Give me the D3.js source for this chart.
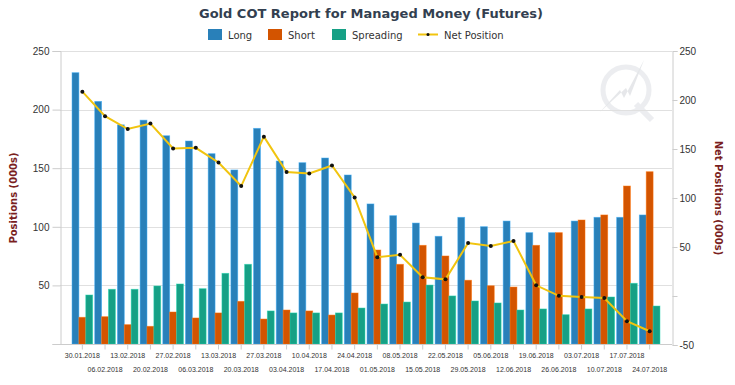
<!DOCTYPE html>
<html>
<head>
<meta charset="utf-8">
<script src="https://cdn.jsdelivr.net/npm/d3@7"></script>
<style>
  body { margin: 0; background: #fff; }
  svg { font-family: "DejaVu Sans", sans-serif; }
</style>
</head>
<body>
<svg id="chart" width="735" height="385"></svg>
<script>
var dates = ["30.01.2018","06.02.2018","13.02.2018","20.02.2018","27.02.2018","06.03.2018","13.03.2018",
  "20.03.2018","27.03.2018","03.04.2018","10.04.2018","17.04.2018","24.04.2018","01.05.2018",
  "08.05.2018","15.05.2018","22.05.2018","29.05.2018","05.06.2018","12.06.2018","19.06.2018",
  "26.06.2018","03.07.2018","10.07.2018","17.07.2018","24.07.2018"];
var long_vals = [231.5,207,187,191,177.7,173.2,162.4,148.5,184,156.1,154.7,158.7,144.2,119.5,
  109.5,103.2,91.9,108.1,100.1,104.9,95,95,104.9,108.1,108.1,110.1];
var short_vals = [22.8,23.3,16.5,15.1,27.3,22.2,26.5,36.4,21.3,29,28.2,24.7,43.5,80.2,
  68,84.2,75.1,54.4,49.7,48.6,84.2,95,105.8,110.1,134.8,147];
var spread_vals = [41.8,46.7,46.7,49.5,51.2,47.2,60.3,68,28.2,26.5,26.5,26.5,30.7,34.1,
  35.8,50.3,41,36.7,35,29,29.9,25,29.9,40.1,51.8,32.4];
var net_vals = [208.5,183.5,170.4,176,150.6,151.2,136.2,112.2,162.6,126.5,125,133.2,100.5,39.5,
  42,19.2,17,54,51,56.2,10.9,0.2,-1,-2,-25.8,-36];
var left_ticks = [0,50,100,150,200,250];
var right_ticks = [-50,0,50,100,150,200,250];

var series = [
  {name: "Long", values: long_vals, color: "#2980b9"},
  {name: "Short", values: short_vals, color: "#d35400"},
  {name: "Spreading", values: spread_vals, color: "#16a085"}
];

var svg = d3.select("#chart");
var plot_left = 60, plot_right = 672, plot_top = 51, plot_bottom = 344;

var x = d3.scaleBand().domain(dates).range([71, 661]).paddingInner(0).paddingOuter(0);
var y_left = d3.scaleLinear().domain([0, 250]).range([plot_bottom, plot_top]);
var y_right = d3.scaleLinear().domain([-50, 250]).range([plot_bottom + 1, plot_top]);
var sub = d3.scaleBand().domain(series.map(s => s.name)).range([0, x.bandwidth()]).paddingOuter(0.15);

// watermark
var wm = svg.append("g").attr("transform", "translate(626,90)").attr("opacity", 0.35);
wm.append("circle").attr("r", 23).attr("fill", "none").attr("stroke", "#c9ced6").attr("stroke-width", 5);
wm.append("path").attr("d", "M-26,22 L-6,0 L-2,8 L18,-30 L4,6 L0,-2 Z").attr("fill", "#b8bdc4");
wm.append("path").attr("d", "M10,14 L26,30").attr("stroke", "#c9ced6").attr("stroke-width", 6);

// grid
svg.append("g").selectAll("line")
  .data(left_ticks.slice(1))
  .enter().append("line")
  .attr("x1", plot_left).attr("x2", plot_right)
  .attr("y1", d => Math.round(y_left(d)) + 0.5).attr("y2", d => Math.round(y_left(d)) + 0.5)
  .attr("stroke", "#e0e0e0").attr("stroke-width", 1);

// bars
series.forEach(function(s){
  svg.append("g").selectAll("rect")
    .data(s.values)
    .enter().append("rect")
    .attr("x", (d, i) => x(dates[i]) + sub(s.name))
    .attr("y", d => y_left(d))
    .attr("width", sub.bandwidth())
    .attr("height", d => plot_bottom - y_left(d))
    .attr("fill", s.color)
    .attr("stroke", d3.color(s.color).brighter(0.8))
    .attr("stroke-opacity", 0.6)
    .attr("stroke-width", 0.8);
});

// net line
var line = d3.line()
  .x((d, i) => x(dates[i]) + x.bandwidth() / 2)
  .y(d => y_right(d));
svg.append("path")
  .datum(net_vals)
  .attr("d", line)
  .attr("fill", "none")
  .attr("stroke", "#f1c40f")
  .attr("stroke-width", 2);
svg.append("g").selectAll("circle")
  .data(net_vals)
  .enter().append("circle")
  .attr("cx", (d, i) => x(dates[i]) + x.bandwidth() / 2)
  .attr("cy", d => y_right(d))
  .attr("r", 2)
  .attr("fill", "#111");

// left axis
var left_axis = svg.append("g").attr("transform", "translate(" + (plot_left + 0.5) + ",0)")
  .call(d3.axisLeft(y_left).tickValues(left_ticks).tickSize(8).tickPadding(3)
    .tickFormat(d => d == 0 ? "" : d));
left_axis.select(".domain").attr("stroke", "#cccccc");
left_axis.selectAll(".tick line").attr("stroke", "#cccccc");
left_axis.selectAll("text").attr("fill", "#333").style("font-size", "10px");

// right axis
var right_axis = svg.append("g").attr("transform", "translate(" + (plot_right + 0.5) + ",0)")
  .call(d3.axisRight(y_right).tickValues(right_ticks).tickSize(5).tickPadding(2)
    .tickFormat(d => d == 0 ? "" : d));
right_axis.select(".domain").attr("stroke", "#cccccc");
right_axis.selectAll(".tick line").attr("stroke", "#cccccc");
right_axis.selectAll("text").attr("fill", "#333").style("font-size", "10px");

// bottom axis
var bottom_axis = svg.append("g").attr("transform", "translate(0," + (plot_bottom + 0.5) + ")")
  .call(d3.axisBottom(x).tickSize(5).tickPadding(4));
bottom_axis.select(".domain").attr("d", "M" + plot_left + ",0H" + plot_right).attr("stroke", "#cccccc");
bottom_axis.selectAll(".tick line").attr("stroke", "#cccccc");
bottom_axis.selectAll("text")
  .attr("fill", "#333")
  .style("font-size", "7px")
  .attr("dy", (d, i) => i % 2 == 0 ? "0.71em" : "2.6em");

// axis titles
svg.append("text")
  .attr("transform", "translate(17,198) rotate(-90)")
  .attr("text-anchor", "middle")
  .attr("fill", "#7a1f1f")
  .style("font-size", "10px").style("font-weight", "bold")
  .text("Positions (000s)");
svg.append("text")
  .attr("transform", "translate(715,198) rotate(90)")
  .attr("text-anchor", "middle")
  .attr("fill", "#7a1f1f")
  .style("font-size", "10px").style("font-weight", "bold")
  .text("Net Positions (000s)");

// title
svg.append("text")
  .attr("x", 371).attr("y", 18)
  .attr("text-anchor", "middle")
  .attr("fill", "#333f50")
  .style("font-size", "13px").style("font-weight", "bold")
  .text("Gold COT Report for Managed Money (Futures)");

// legend
var legend_items = [
  {name: "Long", color: "#2980b9", x: 208, type: "bar"},
  {name: "Short", color: "#d35400", x: 268, type: "bar"},
  {name: "Spreading", color: "#16a085", x: 332, type: "bar"},
  {name: "Net Position", color: "#f1c40f", x: 418, type: "line"}
];
var legend = svg.append("g");
legend_items.forEach(function(it){
  var g = legend.append("g").attr("transform", "translate(" + it.x + ",35)");
  if (it.type == "bar") {
    g.append("rect").attr("x", 0).attr("y", -6).attr("width", 14).attr("height", 11).attr("fill", it.color);
    g.append("text").attr("x", 20).attr("y", 4).attr("fill", "#333").style("font-size", "10px").text(it.name);
  } else {
    g.append("line").attr("x1", 0).attr("x2", 20).attr("y1", -0.5).attr("y2", -0.5)
      .attr("stroke", it.color).attr("stroke-width", 2);
    g.append("circle").attr("cx", 10).attr("cy", -0.5).attr("r", 1.5).attr("fill", "#111");
    g.append("text").attr("x", 26).attr("y", 4).attr("fill", "#333").style("font-size", "10px").text(it.name);
  }
});
</script>
</body>
</html>
